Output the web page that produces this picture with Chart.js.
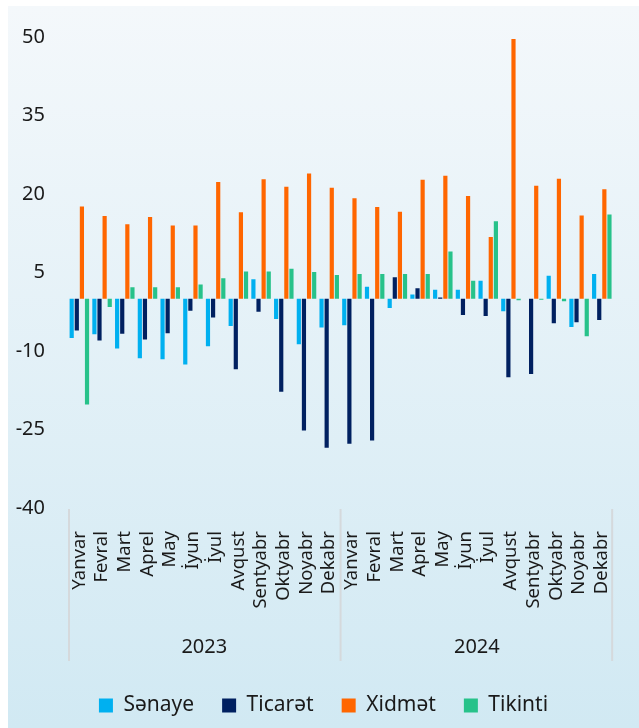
<!DOCTYPE html>
<html>
<head>
<meta charset="utf-8">
<script src="https://cdn.jsdelivr.net/npm/chart.js@4/dist/chart.umd.min.js"></script>
<style>
  html, body { margin: 0; padding: 0; background: #fff; }
  #panel {
    position: absolute; left: 8px; top: 6px; width: 631px; height: 722px;
    background: linear-gradient(to bottom, #f4f8fb 0%, #d1e9f3 100%);
  }
  canvas { display: block; }
</style>
</head>
<body>
<div id="panel"><canvas id="chart" width="631" height="722"></canvas></div>
<script>
const monthNames = ['Yanvar', 'Fevral', 'Mart', 'Aprel', 'May', 'İyun', 'İyul', 'Avqust', 'Sentyabr', 'Oktyabr', 'Noyabr', 'Dekabr'];
const years = ['2023', '2024'];
const months = monthNames.concat(monthNames);

const senaye  = [-7.5, -6.8, -9.5, -11.4, -11.6, -12.6, -9.1, -5.2, 3.7, -3.9, -8.7, -5.5,
                 -5.1, 2.3, -1.8, 0.8, 1.7, 1.7, 3.4, -2.4, 0, 4.4, -5.4, 4.7];
const ticaret = [-6.1, -8.0, -6.7, -7.8, -6.6, -2.3, -3.6, -13.5, -2.5, -17.8, -25.2, -28.5,
                 -27.7, -27.1, 4.1, 2.0, 0.2, -3.1, -3.3, -15.0, -14.4, -4.7, -4.5, -4.1];
const xidmet  = [17.6, 15.8, 14.2, 15.6, 14.0, 14.0, 22.3, 16.5, 22.8, 21.4, 23.9, 21.2,
                 19.2, 17.5, 16.6, 22.7, 23.5, 19.6, 11.8, 49.6, 21.6, 22.9, 15.9, 20.9];
const tikinti = [-20.2, -1.6, 2.2, 2.2, 2.2, 2.7, 3.9, 5.2, 5.2, 5.7, 5.1, 4.5,
                 4.7, 4.7, 4.7, 4.7, 9.0, 3.4, 14.8, -0.3, -0.2, -0.5, -7.2, 16.1];
const yTicks = { min: -40, max: 50, step: 15 };

const fontFamily = '"Noto Sans", sans-serif';
const textColor = '#1a1a1a';

// year labels under the months, with vertical separators between the groups
const yearGroups = {
  id: 'yearGroups',
  afterDraw(chart) {
    const x = chart.scales.x, ctx = chart.ctx;
    const bottom = chart.chartArea.bottom;
    const mid = (x.getPixelForValue(11) + x.getPixelForValue(12)) / 2;
    ctx.save();
    ctx.strokeStyle = '#d5d9dc';
    ctx.lineWidth = 2;
    [x.left + 1, mid, x.right - 1].forEach(px => {
      ctx.beginPath();
      ctx.moveTo(px, bottom + 1);
      ctx.lineTo(px, bottom + 153);
      ctx.stroke();
    });
    ctx.fillStyle = textColor;
    ctx.font = '20px ' + fontFamily;
    ctx.textAlign = 'center';
    ctx.textBaseline = 'middle';
    ctx.fillText(years[0], (x.left + mid) / 2, bottom + 139);
    ctx.fillText(years[1], (mid + x.right) / 2, bottom + 139);
    ctx.restore();
  }
};

new Chart(document.getElementById('chart'), {
  type: 'bar',
  data: {
    labels: months,
    datasets: [
      { label: 'Sənaye', data: senaye, backgroundColor: '#00b0f0' },
      { label: 'Ticarət', data: ticaret, backgroundColor: '#002060' },
      { label: 'Xidmət', data: xidmet, backgroundColor: '#ff6600' },
      { label: 'Tikinti', data: tikinti, backgroundColor: '#27c28a' }
    ]
  },
  options: {
    responsive: false,
    animation: false,
    categoryPercentage: 0.9,
    barPercentage: 0.82,
    layout: { padding: { top: 0, right: 0, left: 0, bottom: 2 } },
    plugins: {
      tooltip: { enabled: false },
      legend: {
        position: 'bottom',
        labels: { font: { family: fontFamily, size: 21 }, color: textColor, boxWidth: 14, boxHeight: 14, padding: 28 }
      }
    },
    scales: {
      y: {
        min: yTicks.min, max: yTicks.max,
        ticks: { stepSize: yTicks.step, font: { family: fontFamily, size: 20 }, color: textColor, padding: 23 },
        grid: {
          drawTicks: false,
          color: ctx => ctx.tick && ctx.tick.value === 0 ? '#d5d9dc' : 'rgba(0,0,0,0)',
          lineWidth: 2.5
        },
        border: { display: false },
        afterFit: s => { s.width = 60; s.paddingTop = 31; }
      },
      x: {
        ticks: { font: { family: fontFamily, size: 18.5 }, color: textColor, minRotation: 90, maxRotation: 90, autoSkip: false, padding: 15 },
        grid: { display: false },
        border: { display: false },
        afterFit: s => { s.height = 159; }
      }
    }
  },
  plugins: [yearGroups]
});
</script>
</body>
</html>
